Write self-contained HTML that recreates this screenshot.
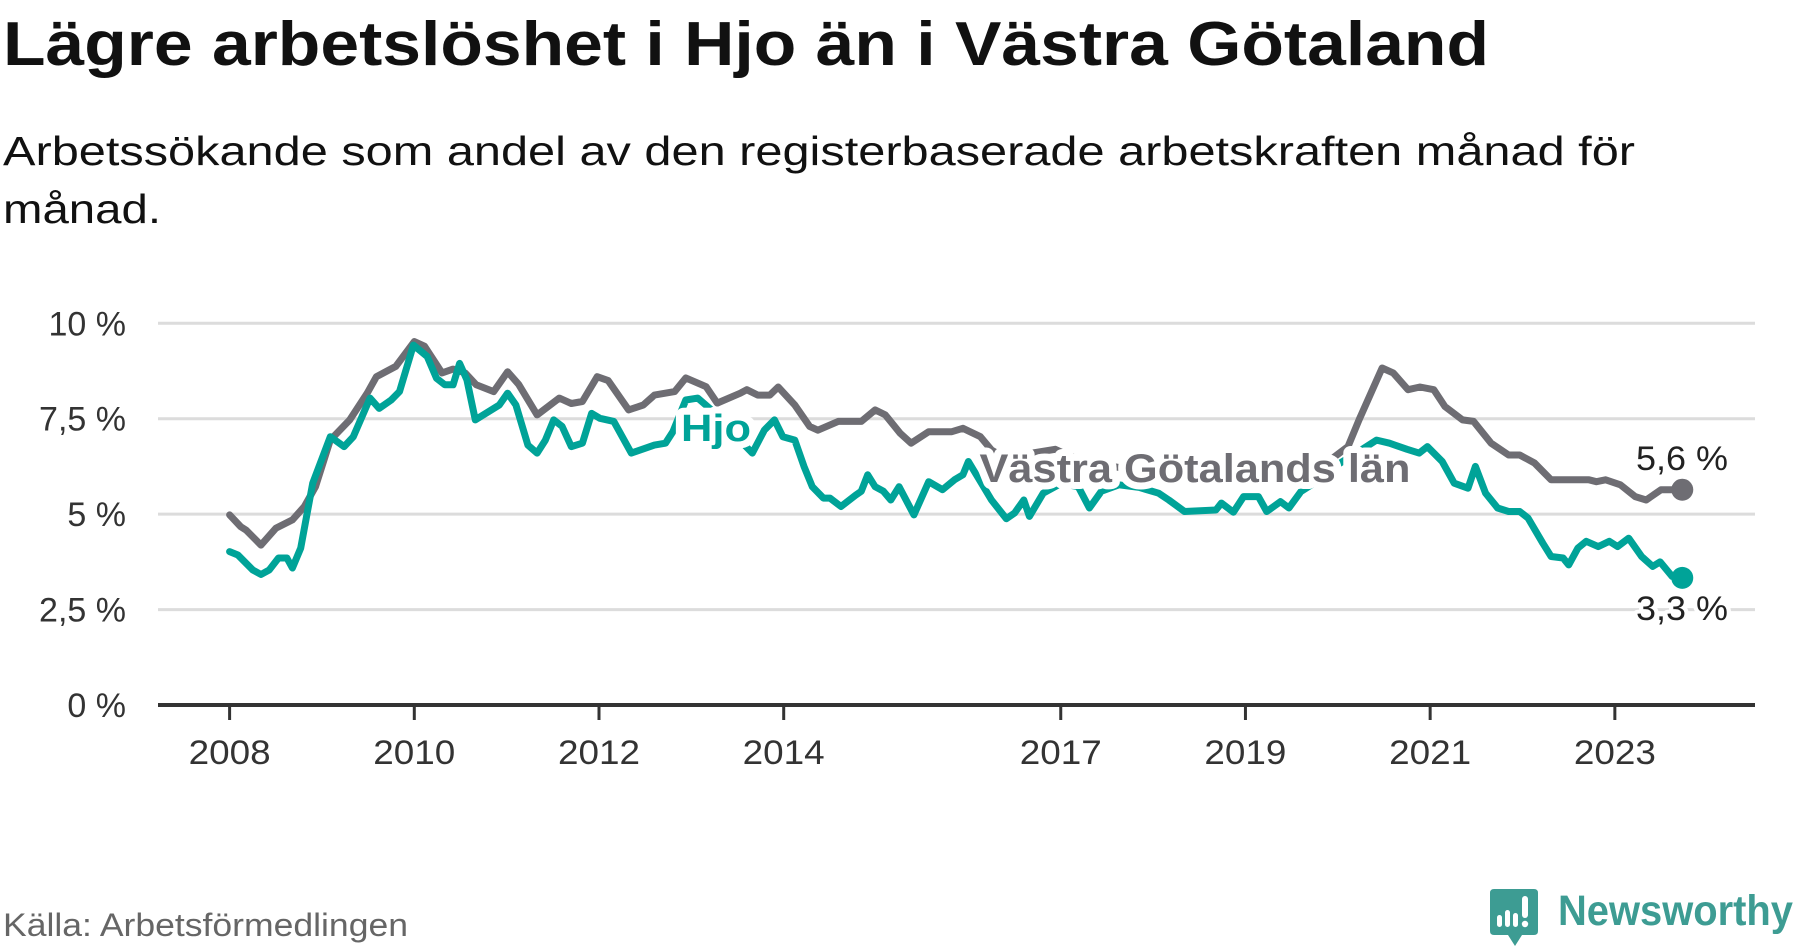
<!DOCTYPE html>
<html><head><meta charset="utf-8"><style>
html,body{margin:0;padding:0;background:#fff;}
svg{display:block;font-family:"Liberation Sans",sans-serif;}
</style></head><body>
<svg id="chart" width="1800" height="948" viewBox="0 0 1800 948" xmlns="http://www.w3.org/2000/svg">
<text x="3" y="65" font-size="62" font-weight="bold" fill="#111" textLength="1486" lengthAdjust="spacingAndGlyphs">Lägre arbetslöshet i Hjo än i Västra Götaland</text>
<text x="3" y="165" font-size="41" fill="#111" textLength="1632" lengthAdjust="spacingAndGlyphs">Arbetssökande som andel av den registerbaserade arbetskraften månad för</text>
<text x="3" y="223" font-size="41" fill="#111" textLength="158" lengthAdjust="spacingAndGlyphs">månad.</text>
<g id="grid"></g>
<g id="yaxis"></g>
<g id="xaxis"></g>
<g id="series"></g>
<g id="labels"></g>
<text x="3" y="936" font-size="32" fill="#666" textLength="405" lengthAdjust="spacingAndGlyphs">Källa: Arbetsförmedlingen</text>
<g>
<path d="M1494 889 H1534 Q1538 889 1538 893 V931 Q1538 935 1534 935 H1522 L1515 946 L1508 935 H1494 Q1490 935 1490 931 V893 Q1490 889 1494 889 Z" fill="#3d9c93"/>
<rect x="1497" y="915" width="5" height="12" rx="2.5" fill="#fff"/>
<rect x="1505" y="910" width="5" height="17" rx="2.5" fill="#fff"/>
<rect x="1513" y="913" width="5" height="14" rx="2.5" fill="#fff"/>
<rect x="1522" y="896" width="6" height="22" rx="3" fill="#fff"/>
<circle cx="1525" cy="924" r="3.2" fill="#fff"/>
<text x="1558" y="925" font-size="43" font-weight="bold" fill="#3d9c93" textLength="235" lengthAdjust="spacingAndGlyphs">Newsworthy</text>
</g>
</svg>
<script>
const yTicks=[0,2.5,5,7.5,10];
const yTickLabels=["0 %","2,5 %","5 %","7,5 %","10 %"];
const xTicks=[2008,2010,2012,2014,2017,2019,2021,2023];
const vgDates=[2008.0,2008.12,2008.18,2008.34,2008.5,2008.68,2008.81,2008.93,2009.09,2009.3,2009.49,2009.59,2009.8,2010.0,2010.11,2010.3,2010.42,2010.55,2010.67,2010.86,2011.01,2011.13,2011.33,2011.57,2011.7,2011.82,2011.98,2012.1,2012.32,2012.48,2012.6,2012.82,2012.94,2013.16,2013.28,2013.53,2013.6,2013.72,2013.85,2013.94,2014.12,2014.28,2014.37,2014.59,2014.84,2014.99,2015.1,2015.26,2015.38,2015.57,2015.82,2015.94,2016.13,2016.25,2016.45,2016.69,2016.94,2017.12,2017.4,2017.7,2018.0,2018.3,2018.6,2018.9,2019.2,2019.5,2019.8,2020.11,2020.23,2020.48,2020.6,2020.76,2020.89,2021.04,2021.16,2021.35,2021.47,2021.66,2021.85,2021.97,2022.13,2022.31,2022.72,2022.8,2022.9,2023.06,2023.22,2023.34,2023.5,2023.73];
const vgValues=[4.98,4.67,4.58,4.19,4.63,4.85,5.2,5.72,6.94,7.47,8.17,8.6,8.87,9.52,9.4,8.7,8.8,8.7,8.39,8.21,8.73,8.4,7.6,8.04,7.9,7.95,8.6,8.5,7.73,7.86,8.12,8.21,8.57,8.34,7.91,8.17,8.26,8.12,8.12,8.33,7.86,7.3,7.2,7.43,7.43,7.73,7.6,7.12,6.86,7.16,7.16,7.25,7.03,6.68,6.4,6.6,6.7,6.5,6.3,6.2,6.15,6.1,6.1,6.1,6.1,6.15,6.2,6.77,7.47,8.83,8.7,8.26,8.33,8.26,7.82,7.47,7.43,6.86,6.55,6.55,6.34,5.9,5.9,5.85,5.9,5.77,5.46,5.37,5.64,5.64];
const hjoDates=[2008.0,2008.09,2008.25,2008.34,2008.43,2008.53,2008.62,2008.68,2008.77,2008.9,2009.09,2009.24,2009.34,2009.52,2009.62,2009.75,2009.84,2009.99,2010.14,2010.24,2010.33,2010.42,2010.49,2010.57,2010.66,2010.92,2011.01,2011.1,2011.23,2011.33,2011.42,2011.51,2011.6,2011.7,2011.82,2011.92,2012.01,2012.16,2012.35,2012.6,2012.72,2012.8,2012.94,2013.07,2013.28,2013.5,2013.66,2013.79,2013.9,2013.99,2014.12,2014.22,2014.31,2014.43,2014.5,2014.62,2014.78,2014.84,2014.91,2014.99,2015.08,2015.16,2015.25,2015.41,2015.57,2015.72,2015.85,2015.94,2016.0,2016.25,2016.41,2016.5,2016.6,2016.66,2016.81,2017.0,2017.19,2017.31,2017.44,2017.63,2017.85,2018.06,2018.17,2018.34,2018.68,2018.74,2018.87,2018.98,2019.14,2019.23,2019.38,2019.47,2019.6,2019.8,2020.0,2020.2,2020.42,2020.56,2020.75,2020.88,2020.97,2021.13,2021.26,2021.41,2021.49,2021.6,2021.73,2021.85,2021.97,2022.06,2022.22,2022.31,2022.44,2022.5,2022.6,2022.69,2022.82,2022.94,2023.03,2023.15,2023.29,2023.41,2023.49,2023.62,2023.73];
const hjoValues=[4.02,3.93,3.54,3.42,3.54,3.85,3.85,3.59,4.11,5.81,7.03,6.77,7.03,8.04,7.77,7.99,8.21,9.43,9.13,8.56,8.39,8.39,8.95,8.52,7.47,7.86,8.17,7.86,6.81,6.6,6.94,7.47,7.3,6.77,6.86,7.64,7.51,7.43,6.6,6.81,6.86,7.16,7.99,8.04,7.6,7.0,6.6,7.2,7.47,7.03,6.94,6.25,5.72,5.42,5.42,5.2,5.5,5.6,6.03,5.72,5.6,5.37,5.72,4.98,5.85,5.64,5.9,6.03,6.38,5.37,4.88,5.03,5.37,4.94,5.55,5.8,5.72,5.16,5.6,5.77,5.7,5.55,5.37,5.07,5.11,5.29,5.05,5.46,5.46,5.07,5.33,5.16,5.59,5.9,6.3,6.6,6.94,6.86,6.7,6.6,6.77,6.38,5.81,5.68,6.25,5.55,5.16,5.07,5.07,4.9,4.24,3.89,3.85,3.67,4.11,4.29,4.15,4.29,4.15,4.37,3.89,3.63,3.75,3.37,3.33];

const NS="http://www.w3.org/2000/svg";
const X0=158,X1=1755;
function xScale(t){return 229.6+(t-2008)*92.35;}
function yScale(v){return 705-v*38.17;}
function mk(tag,attrs,parent){const e=document.createElementNS(NS,tag);for(const k in attrs)e.setAttribute(k,attrs[k]);parent.appendChild(e);return e;}
const grid=document.getElementById('grid'),yax=document.getElementById('yaxis'),xax=document.getElementById('xaxis'),ser=document.getElementById('series'),lab=document.getElementById('labels');
yTicks.forEach((v,i)=>{
 if(v>0){const l=mk('line',{x1:X0,x2:X1,y1:yScale(v),y2:yScale(v),stroke:'#dcdcdc','stroke-width':3},grid);
 
 }
 const t=mk('text',{x:126,y:yScale(v)+12,'text-anchor':'end','font-size':34,fill:'#333'},yax);
 
 
 t.textContent=yTickLabels[i];
});
const ax=mk('line',{x1:X0,x2:X1,y1:705,y2:705,stroke:'#333','stroke-width':4},xax);


xTicks.forEach(yr=>{
 const x=xScale(yr);
 const tk=mk('line',{x1:x,x2:x,y1:705,y2:720,stroke:'#333','stroke-width':3},xax);
 
 
 const t=mk('text',{x:x,y:764,'text-anchor':'middle','font-size':34,fill:'#333',textLength:82,lengthAdjust:'spacingAndGlyphs'},xax);
 
 
 t.textContent=String(yr);
});
function drawLine(d,v,color,name){
 const pts=d.map((t,i)=>xScale(t).toFixed(1)+','+yScale(v[i]).toFixed(1)).join(' ');
 const p=mk('polyline',{points:pts,fill:'none',stroke:color,'stroke-width':7,'stroke-linejoin':'round','stroke-linecap':'round'},ser);
 
 
 const n=d.length-1;
 const c=mk('circle',{cx:xScale(d[n]),cy:yScale(v[n]),r:11,fill:color},ser);
 
 
}
drawLine(vgDates,vgValues,'#6e6d73','vastra-gotaland-line');
drawLine(hjoDates,hjoValues,'#00a398','hjo-line');
function label(x,y,txt,color,size,bold,name,len,sw){
 const t=mk('text',{x:x,y:y,'text-anchor':'middle','font-size':size,fill:color,stroke:'#fff','stroke-width':sw||8,'paint-order':'stroke','stroke-linejoin':'round'},lab);
 if(bold)t.setAttribute('font-weight','bold');
 if(len){t.setAttribute('textLength',len);t.setAttribute('lengthAdjust','spacingAndGlyphs');}
 
 
 t.textContent=txt;
}
label(716,441,'Hjo','#00a398',38,true,'hjo-series-label',70,14);
label(1195,482,'Västra Götalands län','#6e6d73',40,true,'vastra-gotaland-series-label',431,14);
const vn=vgValues.length-1,hn=hjoValues.length-1;
label(1682,470,vgValues[vn].toFixed(1).replace('.',',')+' %','#222',34,false,'vastra-gotaland-end-value',92);
label(1682,620,hjoValues[hn].toFixed(1).replace('.',',')+' %','#222',34,false,'hjo-end-value',92);
</script>
</body></html>
